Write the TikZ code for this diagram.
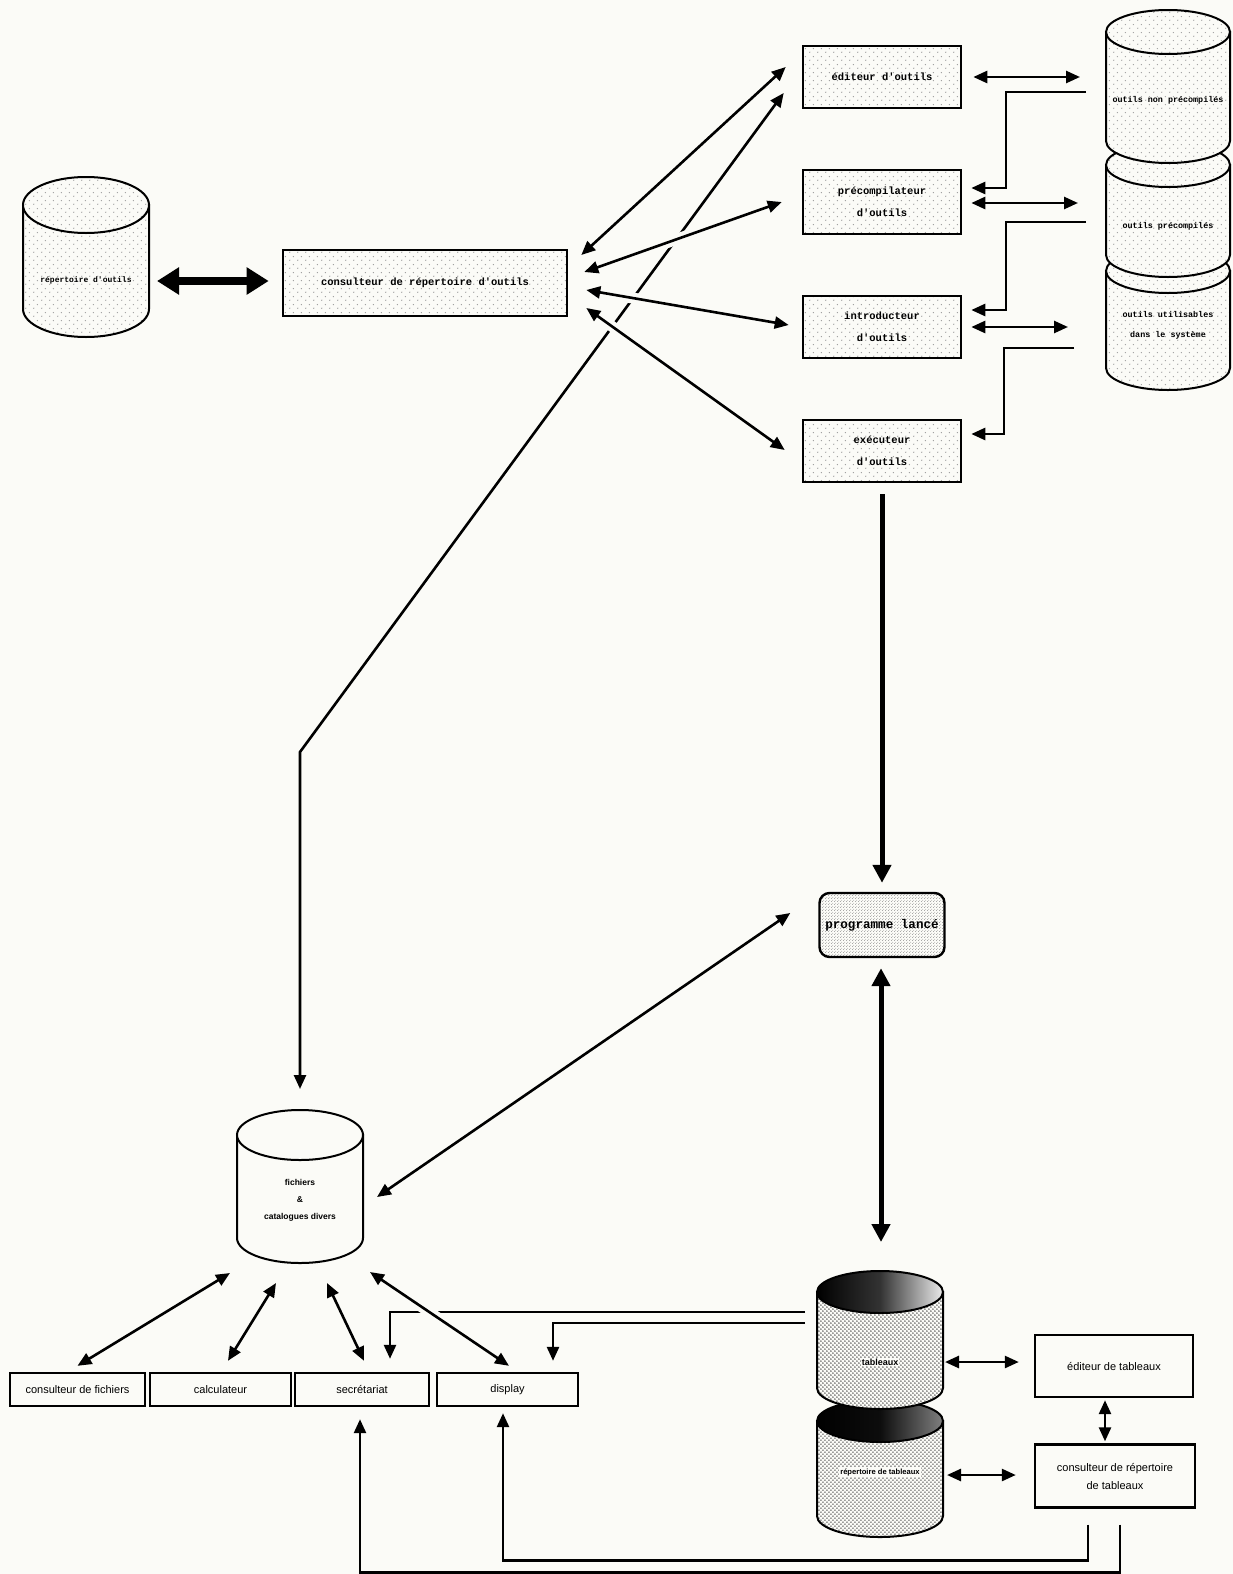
\documentclass[tikz,border=0pt]{standalone}
\usepackage{fontspec}
\setmainfont{Liberation Sans}
\setmonofont{Liberation Mono}
\usetikzlibrary{arrows.meta,patterns.meta}

\definecolor{paper}{RGB}{251,251,247}

% halftone textures
\tikzdeclarepattern{
  name=sparsedots, type=uncolored,
  bounding box={(0pt,0pt) and (8pt,8pt)},
  tile size={(8pt,8pt)},
  code={\fill (2pt,2pt) circle (0.75pt); \fill (6pt,6pt) circle (0.75pt);}
}
\tikzdeclarepattern{
  name=densedots, type=uncolored,
  bounding box={(0pt,0pt) and (4.4pt,4.4pt)},
  tile size={(4.4pt,4.4pt)},
  code={\fill (1.1pt,1.1pt) circle (0.85pt); \fill (3.3pt,3.3pt) circle (0.85pt);}
}
\tikzdeclarepattern{
  name=finedots, type=uncolored,
  bounding box={(0pt,0pt) and (3pt,3pt)},
  tile size={(3pt,3pt)},
  code={\fill (0.75pt,0.75pt) circle (0.55pt); \fill (2.25pt,2.25pt) circle (0.55pt);}
}

\newcommand\toolfont{\ttfamily\bfseries\fontsize{10.5}{22}\selectfont}
\newcommand\stacktt{\ttfamily\bfseries\fontsize{8.4}{20}\selectfont}
\newcommand\reptt{\ttfamily\bfseries\fontsize{8}{10}\selectfont}
\newcommand\progfont{\ttfamily\bfseries\fontsize{12.6}{14}\selectfont}
\newcommand\plainfont{\fontsize{11}{18}\selectfont}
\newcommand\fichfont{\bfseries\fontsize{8.5}{17}\selectfont}

% cylinder: cx, rx, top y, bottom y, ry, body style, lid style
\newcommand\drawcyl[7]{%
  \path[#6] ({#1-#2},#3) -- ({#1-#2},#4)
     arc[start angle=180, end angle=0, x radius=#2, y radius=#5]
     -- ({#1+#2},#3) -- cycle;
  \path[#7] (#1,#3) ellipse [x radius=#2, y radius=#5];
}

\tikzset{
  arrowhd/.tip={Triangle[length=14pt,width=12pt]},
  bighd/.tip={Triangle[length=22pt,width=26pt]},
  thickhd/.tip={Triangle[length=18pt,width=18pt]},
  toolbox/.style={draw, line width=2.6pt, minimum width=158pt, minimum height=62pt,
    inner sep=0pt, align=center, preaction={fill=paper},
    pattern=sparsedots, pattern color=black!40, font=\toolfont},
  plainbox/.style={draw, line width=2.4pt, minimum height=33pt, inner sep=0pt,
    align=center, fill=paper, font=\plainfont},
  cyltext/.style={align=center, inner sep=1pt},
  conn/.style={line width=2.6pt},
  dbl/.style={conn, arrowhd-arrowhd},
  arr/.style={conn, -arrowhd},
  crossgap/.style={preaction={draw=paper, line width=11pt, arrows=-}},
  sparsebody/.style={draw, line width=2pt, preaction={fill=paper},
    pattern=sparsedots, pattern color=black!38},
  densebody/.style={draw, line width=2pt, preaction={fill=paper},
    pattern=densedots, pattern color=black!78},
  plainbody/.style={draw, line width=2pt, fill=paper},
  darklidA/.style={draw, line width=2pt, left color=black, right color=black!8,
    middle color=black!80},
  darklidB/.style={draw, line width=2pt, left color=black, right color=black!50,
    middle color=black!95},
}

\begin{document}
\begin{tikzpicture}[x=1pt, y=-1pt]
\useasboundingbox (0,0) rectangle (1233,1574);
\fill[paper] (0,0) rectangle (1233,1574);

% ---- tool directory and its consultant
\drawcyl{86}{63}{205}{309}{28}{sparsebody}{sparsebody}
\node[cyltext, font=\reptt] (rep) at (86,280) {répertoire d'outils};
\node[toolbox, minimum width=284pt, minimum height=66pt] (cons) at (425,283)
  {consulteur de répertoire d'outils};

% ---- tool processors
\node[toolbox] (edo) at (882,77) {éditeur d'outils};
\node[toolbox, minimum height=64pt] (pre) at (882,202) {précompilateur\\d'outils};
\node[toolbox] (intro) at (882,327) {introducteur\\d'outils};
\node[toolbox] (exe) at (882,451) {exécuteur\\d'outils};

% ---- stack of tool stores
\drawcyl{1168}{62}{271}{368}{22}{sparsebody}{sparsebody}
\drawcyl{1168}{62}{165}{255}{22}{sparsebody}{sparsebody}
\drawcyl{1168}{62}{32}{141}{22}{sparsebody}{sparsebody}
\node[cyltext, font=\stacktt] (onp) at (1168,100) {outils non précompilés};
\node[cyltext, font=\stacktt] (op) at (1168,226) {outils précompilés};
\node[cyltext, font=\stacktt] (ou) at (1168,325) {outils utilisables\\dans le système};

% ---- launched program
\node[draw, line width=2.4pt, rounded corners=10pt, minimum width=125pt,
  minimum height=64pt, preaction={fill=paper}, pattern=finedots,
  pattern color=black!45, font=\progfont] (prog) at (882,925) {programme lancé};

% ---- files and catalogues
\drawcyl{300}{63}{1135}{1238}{25}{plainbody}{plainbody}
\node[cyltext, font=\fichfont] (fich) at (300,1200) {fichiers\\\&\\catalogues divers};

% ---- spreadsheets stack
\drawcyl{880}{63}{1421}{1516}{21}{densebody}{darklidB}
\drawcyl{880}{63}{1292}{1388}{21}{densebody}{darklidA}
\node[cyltext, fill=paper, font=\bfseries\fontsize{9}{10}\selectfont] (tab) at (880,1362) {tableaux};
\node[cyltext, fill=paper, font=\bfseries\fontsize{7.6}{9}\selectfont] (rept) at (880,1472) {répertoire de tableaux};

% ---- application boxes
\node[plainbox, minimum width=135pt] (cf) at (77.5,1389.5) {consulteur de fichiers};
\node[plainbox, minimum width=141pt] (calc) at (220.5,1389.5) {calculateur};
\node[plainbox, minimum width=134pt] (sec) at (362,1389.5) {secrétariat};
\node[plainbox, minimum width=141pt] (disp) at (507.5,1389.5) {display};
\node[plainbox, minimum width=158pt, minimum height=62pt] (edt) at (1114,1366) {éditeur de tableaux};
\node[plainbox, minimum width=160pt, minimum height=63pt] (crt) at (1115,1476)
  {consulteur de répertoire\\de tableaux};

% ---- connector ends at cylinders
\coordinate (repE) at (157,281);
\coordinate (s1a) at (1080,77);
\coordinate (s1b) at (1086,92);
\coordinate (s2a) at (1078,203);
\coordinate (s2b) at (1086,222);
\coordinate (s3a) at (1068,327);
\coordinate (s3b) at (1074,348);
\coordinate (bend) at (300,752);
\coordinate (fichTop) at (300,1089);
\coordinate (fichR) at (377,1197);
\coordinate (f1) at (230,1273);
\coordinate (f2) at (276,1283);
\coordinate (f3) at (327,1283);
\coordinate (f4) at (370,1272);
\coordinate (tabTop) at (881,1242);
\coordinate (tabL1) at (805,1312);
\coordinate (tabL2) at (805,1323);
\coordinate (tabR) at (945,1362);
\coordinate (reptR) at (947,1475);

% ---- connectors, upper part
\draw[line width=8pt, bighd-bighd] (repE) -- ([shift={(-13,-2)}]cons.west);
\draw[dbl] ([shift={(-18,16)}]edo.west) -- (bend) -- (fichTop);
\draw[dbl] ([shift={(13,-28)}]cons.east) -- ([shift={(-16,-10)}]edo.west);
\draw[dbl, crossgap] ([shift={(16,-11)}]cons.east) -- ([shift={(-20,0)}]pre.west);
\draw[dbl, crossgap] ([shift={(18,7)}]cons.east) -- ([shift={(-13,-2)}]intro.west);
\draw[dbl, crossgap] ([shift={(18,25)}]cons.east) -- ([shift={(-17,-1)}]exe.west);

\draw[dbl] ([shift={(11,0)}]edo.east) -- (s1a);
\draw[arr] (s1b) -- ++(-80,0) |- ([shift={(9,-14)}]pre.east);
\draw[dbl] ([shift={(9,1)}]pre.east) -- (s2a);
\draw[arr] (s2b) -- ++(-80,0) |- ([shift={(9,-17)}]intro.east);
\draw[dbl] ([shift={(9,0)}]intro.east) -- (s3a);
\draw[arr] (s3b) -- ++(-70,0) |- ([shift={(9,-17)}]exe.east);

\draw[line width=5pt, -thickhd] ([shift={(0,11)}]exe.south) -- ([shift={(0,-9)}]prog.north);
\draw[line width=5pt, thickhd-thickhd] ([shift={(-1,10)}]prog.south) -- (tabTop);
\draw[dbl] (fichR) -- ([shift={(-28,-12)}]prog.west);

% ---- connectors, lower part
\draw[arr] (tabL1) -| ([shift={(28,-13)}]sec.north);
\draw[arr] (tabL2) -| ([shift={(45.5,-11)}]disp.north);
\draw[dbl] (f1) -- ([shift={(0,-6)}]cf.north);
\draw[dbl] (f2) -- ([shift={(7.5,-11)}]calc.north);
\draw[dbl] (f3) -- ([shift={(2,-11)}]sec.north);
\draw[dbl, crossgap] (f4) -- ([shift={(1.5,-6)}]disp.north);

\draw[dbl] (tabR) -- ([shift={(-15,-4)}]edt.west);
\draw[dbl] ([shift={(-9,2)}]edt.south) -- ([shift={(-10,-2)}]crt.north);
\draw[dbl] (reptR) -- ([shift={(-18,-1)}]crt.west);

\draw[arr] ([shift={(-27,16)}]crt.south) -- ++(0,36) -| ([shift={(-4.5,6)}]disp.south);
\draw[arr] ([shift={(5,16)}]crt.south) -- ++(0,48) -| ([shift={(-2,12)}]sec.south);
\end{tikzpicture}
\end{document}
